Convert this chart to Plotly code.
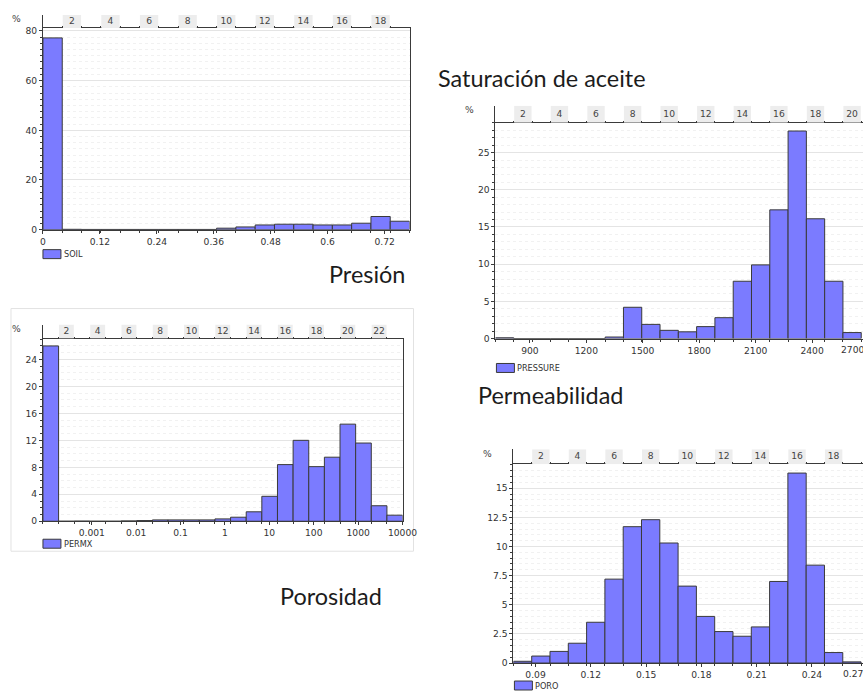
import numpy as np
import plotly.graph_objects as go

# reference picture size (all geometry below is given in its pixels)
W, H = 863, 691
# size of the drawn figure (the page photo is scaled to W x H)
FIG_W, FIG_H = 880, 698
FS = FIG_W / W  # font scale so text keeps its size after scaling

# ---------------- data ----------------
# SOIL histogram (oil saturation)
soil_bin_start = 0.0
soil_bin_width = 0.04066
soil_pct = [77.2, 0.15, 0.1, 0.1, 0.1, 0.1, 0.1, 0.1, 0.1, 0.6,
            1.1, 1.9, 2.2, 2.2, 1.9, 1.9, 2.6, 5.3, 3.4]
soil_xticks = [0, 0.12, 0.24, 0.36, 0.48, 0.6, 0.72]
soil_yticks = [0, 20, 40, 60, 80]

# PRESSURE histogram
pres_bin_start = 717.0
pres_bin_width = 97.2
pres_pct = [0.1, 0, 0, 0, 0, 0, 0.2, 4.2, 1.9, 1.1,
            0.9, 1.6, 2.8, 7.7, 9.9, 17.3, 27.9, 16.1, 7.7, 0.8]
pres_xticks = [900, 1200, 1500, 1800, 2100, 2400, 2700]
pres_yticks = [0, 5, 10, 15, 20, 25]

# PERMX histogram (log10 bins)
perm_bin_start_log = -4.1
perm_bin_width_log = 0.3522
perm_pct = [26.0, 0, 0.02, 0, 0, 0.05, 0.1, 0.2, 0.2, 0.2, 0.2, 0.35,
            0.6, 1.4, 3.7, 8.4, 12.0, 8.1, 9.5, 14.4, 11.6, 2.3, 0.9]
perm_xticks = [0.001, 0.01, 0.1, 1, 10, 100, 1000, 10000]
perm_yticks = [0, 4, 8, 12, 16, 20, 24]

# PORO histogram (porosity)
poro_bin_start = 0.078
poro_bin_width = 0.00993
poro_pct = [0.15, 0.6, 1.0, 1.7, 3.5, 7.2, 11.7, 12.3, 10.3, 6.6,
            4.0, 2.7, 2.3, 3.1, 7.0, 16.3, 8.4, 0.9, 0.1]
poro_xticks = [0.09, 0.12, 0.15, 0.18, 0.21, 0.24, 0.27]
poro_yticks = [0, 2.5, 5, 7.5, 10, 12.5, 15]

series_names = ["SOIL", "PRESSURE", "PERMX", "PORO"]
titles = ["Saturación de aceite", "Presión", "Permeabilidad", "Porosidad"]

# ---------------- layout geometry (reference pixels) ----------------
panels = [
    dict(l=40, r=407, t=25, b=227, ht=12, ymax=81.2, yminor=2.5),
    dict(l=493, r=863, t=120, b=336, ht=103, ymax=29.0, yminor=1),
    dict(l=40, r=400, t=336, b=519, ht=322, ymax=27.1, yminor=1),
    dict(l=511, r=863, t=462, b=661, ht=447, ymax=17.05, yminor=0.5),
]

BAR = "#7b7bff"
EDGE = "#3a3a3a"
AX = "#3a3a3a"
TXT = "#333333"
TICKFONT = dict(family="DejaVu Sans", size=9 * FS, color=TXT)


def px(x):
    return x / W


def py(y):
    return 1 - y / H


starts = [soil_bin_start, pres_bin_start, perm_bin_start_log, poro_bin_start]
widths = [soil_bin_width, pres_bin_width, perm_bin_width_log, poro_bin_width]
pcts = [soil_pct, pres_pct, perm_pct, poro_pct]
xticks_list = [
    (soil_xticks, [f"{v:g}" for v in soil_xticks]),
    (pres_xticks, [f"{v:g}" for v in pres_xticks]),
    (list(np.log10(perm_xticks)), [f"{v:g}" for v in perm_xticks]),
    (poro_xticks, [f"{v:g}" for v in poro_xticks]),
]
yticks_list = [soil_yticks, pres_yticks, perm_yticks, poro_yticks]

fig = go.Figure()
layout = {}
annotations = []
shapes = []

for i in range(4):
    n = len(pcts[i])
    s, w = starts[i], widths[i]
    centers = [s + (k + 0.5) * w for k in range(n)]
    edges = [s + k * w for k in range(n + 1)]
    p = panels[i]
    xa = f"x{i + 1}" if i else "x"
    ya = f"y{i + 1}" if i else "y"
    xh = f"x{i + 5}"
    yh = f"y{i + 5}"

    if i == 1:
        xr = [s, 2681]
    elif i == 3:
        xr = [s, 0.2688]
    elif i == 2:
        xr = [s, 4.0]
    else:
        xr = [s, s + n * w]

    fig.add_trace(go.Bar(x=centers, y=pcts[i], width=w, xaxis=xa, yaxis=ya,
                         marker=dict(color=BAR, line=dict(color=EDGE, width=1)),
                         name=series_names[i], showlegend=False))

    # header strip with bin indices
    even = [k for k in range(2, n + 1, 2)]
    fig.add_trace(go.Bar(x=[centers[k - 1] for k in even], y=[1] * len(even),
                         width=w * 0.95, xaxis=xh, yaxis=yh,
                         marker=dict(color="#ededed", line=dict(width=0)),
                         showlegend=False, hoverinfo="skip"))
    fig.add_trace(go.Scatter(x=[centers[k - 1] for k in even], y=[0.5] * len(even),
                             text=[str(k) for k in even], mode="text",
                             textfont=dict(family="DejaVu Sans", size=9 * FS, color="#444"),
                             xaxis=xh, yaxis=yh, showlegend=False, hoverinfo="skip"))

    tv, tt = xticks_list[i]
    key = i + 1
    xkey = "xaxis" if i == 0 else f"xaxis{key}"
    ykey = "yaxis" if i == 0 else f"yaxis{key}"
    dom_x = [px(p["l"]), min(1.0, px(p["r"]))]
    layout[xkey] = dict(
        domain=dom_x, anchor=ya, range=xr, tickmode="array",
        tickvals=tv, ticktext=tt, showline=True, linecolor=AX, linewidth=1,
        mirror=True, ticks="outside", ticklen=3, tickcolor=AX,
        tickfont=TICKFONT, showgrid=False, zeroline=False,
        minor=dict(tickmode="array", tickvals=edges, ticks="outside",
                   ticklen=2, tickcolor=AX, showgrid=False),
        fixedrange=True,
    )
    layout[ykey] = dict(
        domain=[py(p["b"]), py(p["t"])], anchor=xa, range=[0, p["ymax"]],
        tickmode="array", tickvals=yticks_list[i],
        ticktext=[f"{v:g}" for v in yticks_list[i]],
        showline=True, linecolor=AX, linewidth=1, mirror=True,
        ticks="outside", ticklen=3, tickcolor=AX, tickfont=TICKFONT,
        showgrid=True, gridcolor="#e4e4e4", zeroline=False,
        minor=dict(dtick=p["yminor"], ticks="outside", ticklen=2,
                   tickcolor=AX, showgrid=True, gridcolor="#f1f1f1",
                   griddash="dot"),
        fixedrange=True,
    )
    layout[f"xaxis{i + 5}"] = dict(
        domain=dom_x, anchor=yh, matches=xa, showticklabels=False,
        showline=False, showgrid=False, zeroline=False, tickmode="array",
        tickvals=edges, ticks="inside", ticklen=2, tickcolor=AX,
        fixedrange=True,
    )
    layout[f"yaxis{i + 5}"] = dict(
        domain=[py(p["t"]), py(p["ht"])], anchor=xh, range=[0, 1],
        showticklabels=False, showgrid=False, zeroline=False,
        showline=True, linecolor=AX, linewidth=1, ticks="",
        fixedrange=True,
    )

    # "%" unit label
    annotations.append(dict(x=px(p["l"] - 26), y=py(p["ht"] + 4), xref="paper",
                            yref="paper", text="%", showarrow=False,
                            font=dict(family="DejaVu Sans", size=9 * FS, color="#444"),
                            xanchor="center", yanchor="middle"))

    # last tick label sits at the right edge of the picture: keep it inside
    if i in (1, 3):
        layout[xkey]["tickvals"] = tv[:-1]
        layout[xkey]["ticktext"] = tt[:-1]
        annotations.append(dict(x=1.0, y=py(p["b"] + 4), xref="paper",
                                yref="paper", text=tt[-1], showarrow=False,
                                font=TICKFONT, xanchor="right", yanchor="top",
                                borderpad=0))

# legends (swatch + name)
legend_pos = [(40, 247), (494, 361), (40, 537), (512, 679)]
for i, (lx, ly) in enumerate(legend_pos):
    shapes.append(dict(type="rect", xref="paper", yref="paper",
                       x0=px(lx), x1=px(lx + 18), y0=py(ly), y1=py(ly + 9),
                       fillcolor=BAR, line=dict(color=EDGE, width=1)))
    annotations.append(dict(x=px(lx + 19), y=py(ly + 4.5), xref="paper", yref="paper",
                            text=series_names[i], showarrow=False,
                            font=dict(family="DejaVu Sans", size=8 * FS, color="#333"),
                            xanchor="left", yanchor="middle"))

# faint frame around the PERMX panel
shapes.append(dict(type="rect", xref="paper", yref="paper",
                   x0=px(8), x1=px(411), y0=py(549), y1=py(306),
                   line=dict(color="#e2e2e2", width=1), layer="below"))

# big titles
title_pos = [(434, 75), (324, 271), (474, 393), (275, 594)]
for t, (tx, ty) in zip(titles, title_pos):
    annotations.append(dict(x=px(tx), y=py(ty), xref="paper", yref="paper",
                            text=t, showarrow=False,
                            font=dict(family="Lato", size=23 * FS, color="#1c1c1c"),
                            xanchor="left", yanchor="middle"))

fig.update_layout(
    width=FIG_W, height=FIG_H, margin=dict(l=0, r=0, t=0, b=0),
    paper_bgcolor="white", plot_bgcolor="white",
    showlegend=False, annotations=annotations, shapes=shapes,
    **layout,
)

fig.write_html(
    "out.html",
    config={"displayModeBar": False, "responsive": False},
    post_script=("document.body.style.margin='0';"
                 "document.documentElement.style.overflow='hidden';"
                 "document.body.style.overflow='hidden';"),
)
